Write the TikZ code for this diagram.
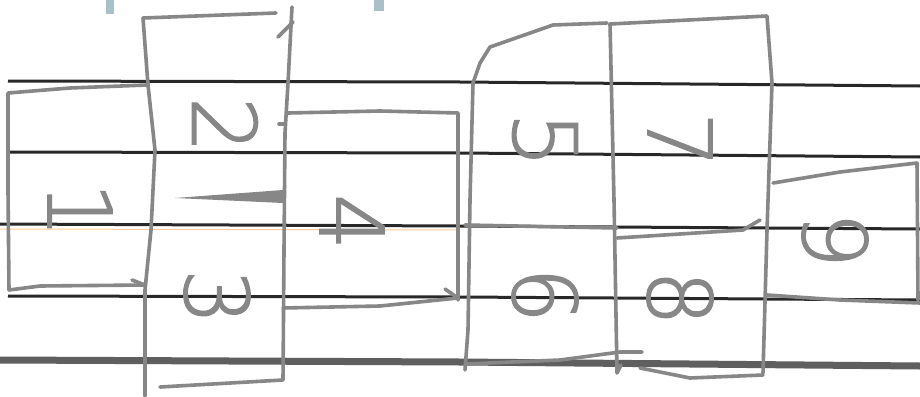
\documentclass[tikz,border=0pt]{standalone}
\usepackage{fontspec}
\setmainfont{DejaVu Sans}
\newfontfamily\hand[FakeBold=1.6]{DejaVu Sans ExtraLight}
\definecolor{rule}{RGB}{40,40,40}
\definecolor{thickrule}{RGB}{95,95,95}
\definecolor{pencil}{RGB}{135,135,135}
\definecolor{smudge}{RGB}{170,192,200}
\tikzset{
  ruled/.style={draw=rule, line width=3pt},
  pen/.style={draw=pencil, line width=3.6pt, line cap=round, line join=round},
  digit/.style={text=pencil, font=\hand\fontsize{88}{88}\selectfont, rotate=-90, inner sep=0pt},
}
\begin{document}
\begin{tikzpicture}[x=1pt,y=-1pt]
\useasboundingbox[fill=white] (0,0) rectangle (920,396);
% paper marks
\fill[smudge] (106,0) rectangle (114,14);
\fill[smudge] (374,0) rectangle (384,11);
% ruled lines
\draw[ruled] (8,81) -- (460,82) -- (920,86);
\draw[ruled] (10,152) -- (460,153) -- (920,157);
\draw[draw=orange!40, line width=1pt] (0,229) -- (460,230);
\draw[ruled] (0,224) -- (460,226) -- (920,229);
\draw[ruled] (8,296) -- (460,297) -- (920,300);
\draw[draw=thickrule, line width=7pt] (0,360) -- (460,362) -- (920,366);
% box 1
\draw[pen] (147,85) -- (70,88) -- (8,93) -- (8,190) -- (9,290) -- (40,286) -- (145,285);
\draw[pen] (132,280) -- (145,285);
% column 2/3
\draw[pen] (276,13) -- (143,18) -- (148,85) -- (155,150) -- (151,230) -- (145,290) -- (145,396);
\draw[pen] (292,7) -- (288,83) -- (285,133) -- (284,250) -- (283,380) -- (160,387);
\draw[pen] (278,37) -- (293,22);
\draw[pen] (279,124) -- (285,124);
\fill[pencil] (175,198) -- (283,190) -- (283,203) -- cycle;
% box 4
\draw[pen] (288,113) -- (380,111) -- (458,113) -- (458,300);
\draw[pen] (283,308) -- (380,306) -- (458,298);
\draw[pen] (445,289) -- (458,298);
% column 5/6
\draw[pen] (607,23) -- (553,25) -- (490,47) -- (480,63) -- (473,83) -- (470,200) -- (468,330) -- (465,370);
\draw[pen] (465,225) -- (617,228);
\draw[pen] (465,364) -- (560,360) -- (620,352) -- (642,352);
% column 7/8
\draw[pen] (610,24) -- (767,16) -- (772,83) -- (767,230) -- (763,373);
\draw[pen] (610,24) -- (614,200) -- (617,373) -- (621,365);
\draw[pen] (617,238) -- (743,230) -- (760,220);
\draw[pen] (640,368) -- (690,378) -- (763,375);
% box 9
\draw[pen] (773,183) -- (840,172) -- (917,163) -- (918,300);
\draw[pen] (767,295) -- (840,300) -- (920,303);
% digits
\node[digit] (d1) at (80,210) {1};
\node[digit] (d2) at (225,125) {2};
\node[digit] (d3) at (217,297) {3};
\node[digit] (d4) at (352,222) {4};
\node[digit] (d5) at (545,140) {5};
\node[digit] (d6) at (545,295) {6};
\node[digit] (d7) at (680,140) {7};
\node[digit] (d8) at (680,298) {8};
\node[digit] (d9) at (835,240) {9};
\end{tikzpicture}
\end{document}
